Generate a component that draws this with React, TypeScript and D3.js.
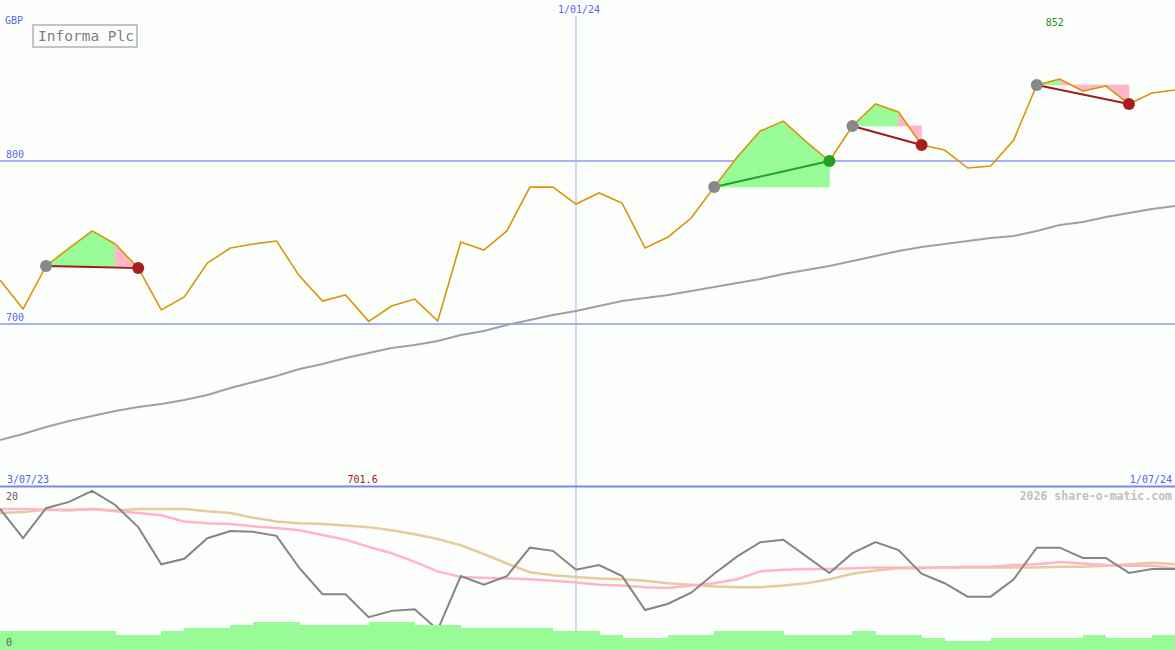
import React from "react";
import * as d3 from "d3";

// weekly closes, 3 Jul 2023 .. 1 Jul 2024
const price = [
  727.0, 709.2, 735.6, 746.6, 757.1, 749.1, 734.4, 708.6, 716.6, 737.4,
  746.6, 749.1, 750.9, 729.4, 714.1, 717.8, 701.6, 711.0, 715.3, 701.8,
  750.3, 745.4, 757.1, 784.0, 784.0, 773.6, 780.4, 774.2, 746.6, 753.4,
  765.0, 784.0, 802.5, 818.4, 824.5, 811.7, 800.0, 821.5, 835.0, 830.1,
  809.8, 806.7, 795.7, 796.9, 812.9, 846.6, 850.3, 842.9, 846.0, 835.0,
  841.7, 843.6,
];

// long moving average
const priceMA = [
  628.8, 632.5, 636.8, 640.5, 643.6, 646.6, 649.1, 650.9, 653.4, 656.4,
  660.7, 664.4, 668.1, 672.4, 675.5, 679.1, 682.2, 685.3, 687.1, 689.6,
  693.3, 695.7, 699.4, 702.5, 705.5, 708.0, 711.0, 714.1, 716.0, 717.8,
  720.2, 722.7, 725.2, 727.6, 730.7, 733.1, 735.6, 738.7, 741.7, 744.8,
  747.2, 749.1, 750.9, 752.8, 754.0, 757.1, 760.7, 762.6, 765.6, 768.1,
  770.6, 772.4,
];

// lower panel oscillator and its two averages
const osc = [
  17.6, 13.9, 17.7, 18.5, 19.9, 18.1, 15.3, 10.6, 11.3, 13.9,
  14.8, 14.7, 14.2, 10.1, 6.8, 6.8, 3.9, 4.7, 4.9, 2.3,
  9.1, 8.0, 9.1, 12.7, 12.3, 9.9, 10.5, 9.1, 4.8, 5.6,
  7.0, 9.4, 11.6, 13.4, 13.7, 11.6, 9.5, 12.0, 13.4, 12.4,
  9.4, 8.2, 6.5, 6.5, 8.7, 12.7, 12.7, 11.4, 11.4, 9.5,
  10.0, 10.0,
];
const oscFast = [
  17.6, 17.6, 17.5, 17.5, 17.6, 17.3, 17.1, 16.8, 16.0, 15.8,
  15.7, 15.4, 15.2, 14.9, 14.3, 13.7, 12.8, 12.0, 10.9, 9.7,
  9.0, 8.9, 8.8, 8.7, 8.5, 8.3, 8.0, 7.9, 7.7, 7.6,
  7.9, 8.2, 8.7, 9.7, 9.9, 10.0, 10.0, 10.1, 10.2, 10.2,
  10.2, 10.2, 10.3, 10.3, 10.5, 10.6, 10.9, 10.7, 10.5, 10.4,
  10.4, 10.1,
];
const oscSlow = [
  17.1, 17.2, 17.5, 17.4, 17.6, 17.4, 17.6, 17.6, 17.6, 17.3,
  17.1, 16.5, 16.0, 15.8, 15.7, 15.5, 15.3, 14.9, 14.4, 13.8,
  13.0, 11.9, 10.7, 9.6, 9.2, 9.0, 8.8, 8.7, 8.5, 8.2,
  8.0, 7.8, 7.7, 7.7, 7.9, 8.2, 8.7, 9.4, 9.8, 10.1,
  10.1, 10.2, 10.2, 10.2, 10.2, 10.2, 10.3, 10.3, 10.4, 10.6,
  10.8, 10.6,
];

// weekly volume (millions), one bar per week
const volume = [
  1.9, 1.9, 1.9, 1.9, 1.9, 1.5, 1.5, 1.9, 2.2, 2.2,
  2.5, 2.8, 2.8, 2.5, 2.5, 2.5, 2.8, 2.8, 2.5, 2.5,
  2.2, 2.2, 2.2, 2.2, 1.9, 1.9, 1.5, 1.2, 1.2, 1.5,
  1.5, 1.9, 1.9, 1.9, 1.5, 1.5, 1.5, 1.9, 1.5, 1.5,
  1.2, 0.9, 0.9, 1.2, 1.2, 1.2, 1.2, 1.5, 1.2, 1.2,
  1.5,
];

// trade signals: [entry week, exit week]
const signals: [number, number][] = [[2, 6], [31, 36], [37, 40], [45, 49]];

const gridLevels = [800, 700];
const midDateIndex = 25;
const dateLabels = ["3/07/23", "1/01/24", "1/07/24"];
const highLabel = "852";
const lowLabel = "701.6";

const W = 1175;
const H = 650;
const mono = "'DejaVu Sans Mono', monospace";
const GREEN_FILL = "#98fb98";
const PINK_FILL = "#ffb6c8";

export default function App() {
  const x = d3.scaleLinear().domain([0, price.length - 1]).range([0, W]);
  const yP = d3.scaleLinear().domain([700, 800]).range([324, 161]);
  const yO = d3.scaleLinear().domain([0, 20]).range([648, 490]);
  const yV = d3.scaleLinear().domain([0, 10]).range([H, 550]);

  const priceLine = d3.line<number>().x((_, i) => x(i)).y((d) => yP(d));
  const oscLine = d3.line<number>().x((_, i) => x(i)).y((d) => yO(d));

  const hiIdx = d3.maxIndex(price);
  const loIdx = d3.minIndex(price);

  const fills: JSX.Element[] = [];
  signals.forEach(([a, b], s) => {
    const entry = price[a];
    for (let i = a; i < b; i++) {
      const seg = [i, i + 1];
      const area = d3
        .area<number>()
        .x((j) => x(j))
        .y0(yP(entry))
        .y1((j) => yP(price[j]));
      const col = price[i + 1] >= entry ? GREEN_FILL : PINK_FILL;
      fills.push(
        <path key={`f${s}-${i}`} d={area(seg) || ""} fill={col} stroke={col} strokeWidth={0.6} />
      );
    }
  });

  return (
    <svg
      width={W}
      height={H}
      style={{ position: "absolute", left: 0, top: 0, display: "block" }}
    >
      <rect width={W} height={H} fill="#fcfefc" />

      {/* price grid */}
      {gridLevels.map((v) => (
        <g key={v}>
          <line x1={0} x2={W} y1={yP(v)} y2={yP(v)} stroke="#a6b2f2" strokeWidth={2} />
          <text x={6} y={yP(v) - 3} fill="#5868f0" fontFamily={mono} fontSize={10}>
            {v}
          </text>
        </g>
      ))}
      <line x1={x(midDateIndex)} x2={x(midDateIndex)} y1={16} y2={632} stroke="#a6b2f2" strokeWidth={1} />

      {fills}

      <path d={priceLine(priceMA) || ""} fill="none" stroke="#a0a0a0" strokeWidth={2} />
      <path d={priceLine(price) || ""} fill="none" stroke="#d8960a" strokeWidth={1.6} />

      {signals.map(([a, b], s) => {
        const win = price[b] >= price[a];
        return (
          <g key={`s${s}`}>
            <line
              x1={x(a)} y1={yP(price[a])} x2={x(b)} y2={yP(price[b])}
              stroke={win ? "#22a022" : "#a01c1c"} strokeWidth={2}
            />
            <circle cx={x(a)} cy={yP(price[a])} r={6} fill="#888888" />
            <circle cx={x(b)} cy={yP(price[b])} r={6} fill={win ? "#22a022" : "#a81e1e"} />
          </g>
        );
      })}

      {/* labels */}
      <text x={5} y={24} fill="#5868f0" fontFamily={mono} fontSize={10}>GBP</text>
      <rect x={33} y={25} width={104} height={22} fill="#fcfefc" stroke="#c4c4c4" strokeWidth={2} />
      <text x={38} y={41} fill="#808080" fontFamily={mono} fontSize={14.5}>Informa Plc</text>
      <text x={579} y={13} textAnchor="middle" fill="#5868f0" fontFamily={mono} fontSize={10}>
        {dateLabels[1]}
      </text>
      <text x={x(hiIdx) - 5} y={26} textAnchor="middle" fill="#209020" fontFamily={mono} fontSize={10}>
        {highLabel}
      </text>
      <text x={7} y={483} fill="#5060f0" fontFamily={mono} fontSize={10}>{dateLabels[0]}</text>
      <text x={x(loIdx) - 6} y={483} textAnchor="middle" fill="#a01818" fontFamily={mono} fontSize={10}>
        {lowLabel}
      </text>
      <text x={1172} y={483} textAnchor="end" fill="#5060f0" fontFamily={mono} fontSize={10}>
        {dateLabels[2]}
      </text>

      {/* lower panel */}
      <line x1={0} x2={W} y1={486.5} y2={486.5} stroke="#7888f0" strokeWidth={2} />
      <text x={1172} y={499.5} textAnchor="end" fill="#c0c0c0" fontFamily={mono} fontSize={11.5} fontWeight="bold">
        2026 share-o-matic.com
      </text>
      <text x={6} y={499.5} fill="#606060" fontFamily={mono} fontSize={10}>20</text>

      <path d={oscLine(oscSlow) || ""} fill="none" stroke="#e6cc9c" strokeWidth={2.5} />
      <path d={oscLine(oscFast) || ""} fill="none" stroke="#ffb4c8" strokeWidth={2.5} />
      <path d={oscLine(osc) || ""} fill="none" stroke="#858585" strokeWidth={2} />

      {volume.map((v, i) => (
        <rect
          key={`v${i}`}
          x={x(i)}
          y={yV(v)}
          width={x(i + 1) - x(i) + 0.5}
          height={H - yV(v)}
          fill={GREEN_FILL}
          shapeRendering="crispEdges"
        />
      ))}
      <text x={6} y={646} fill="#606060" fontFamily={mono} fontSize={10}>0</text>
    </svg>
  );
}
